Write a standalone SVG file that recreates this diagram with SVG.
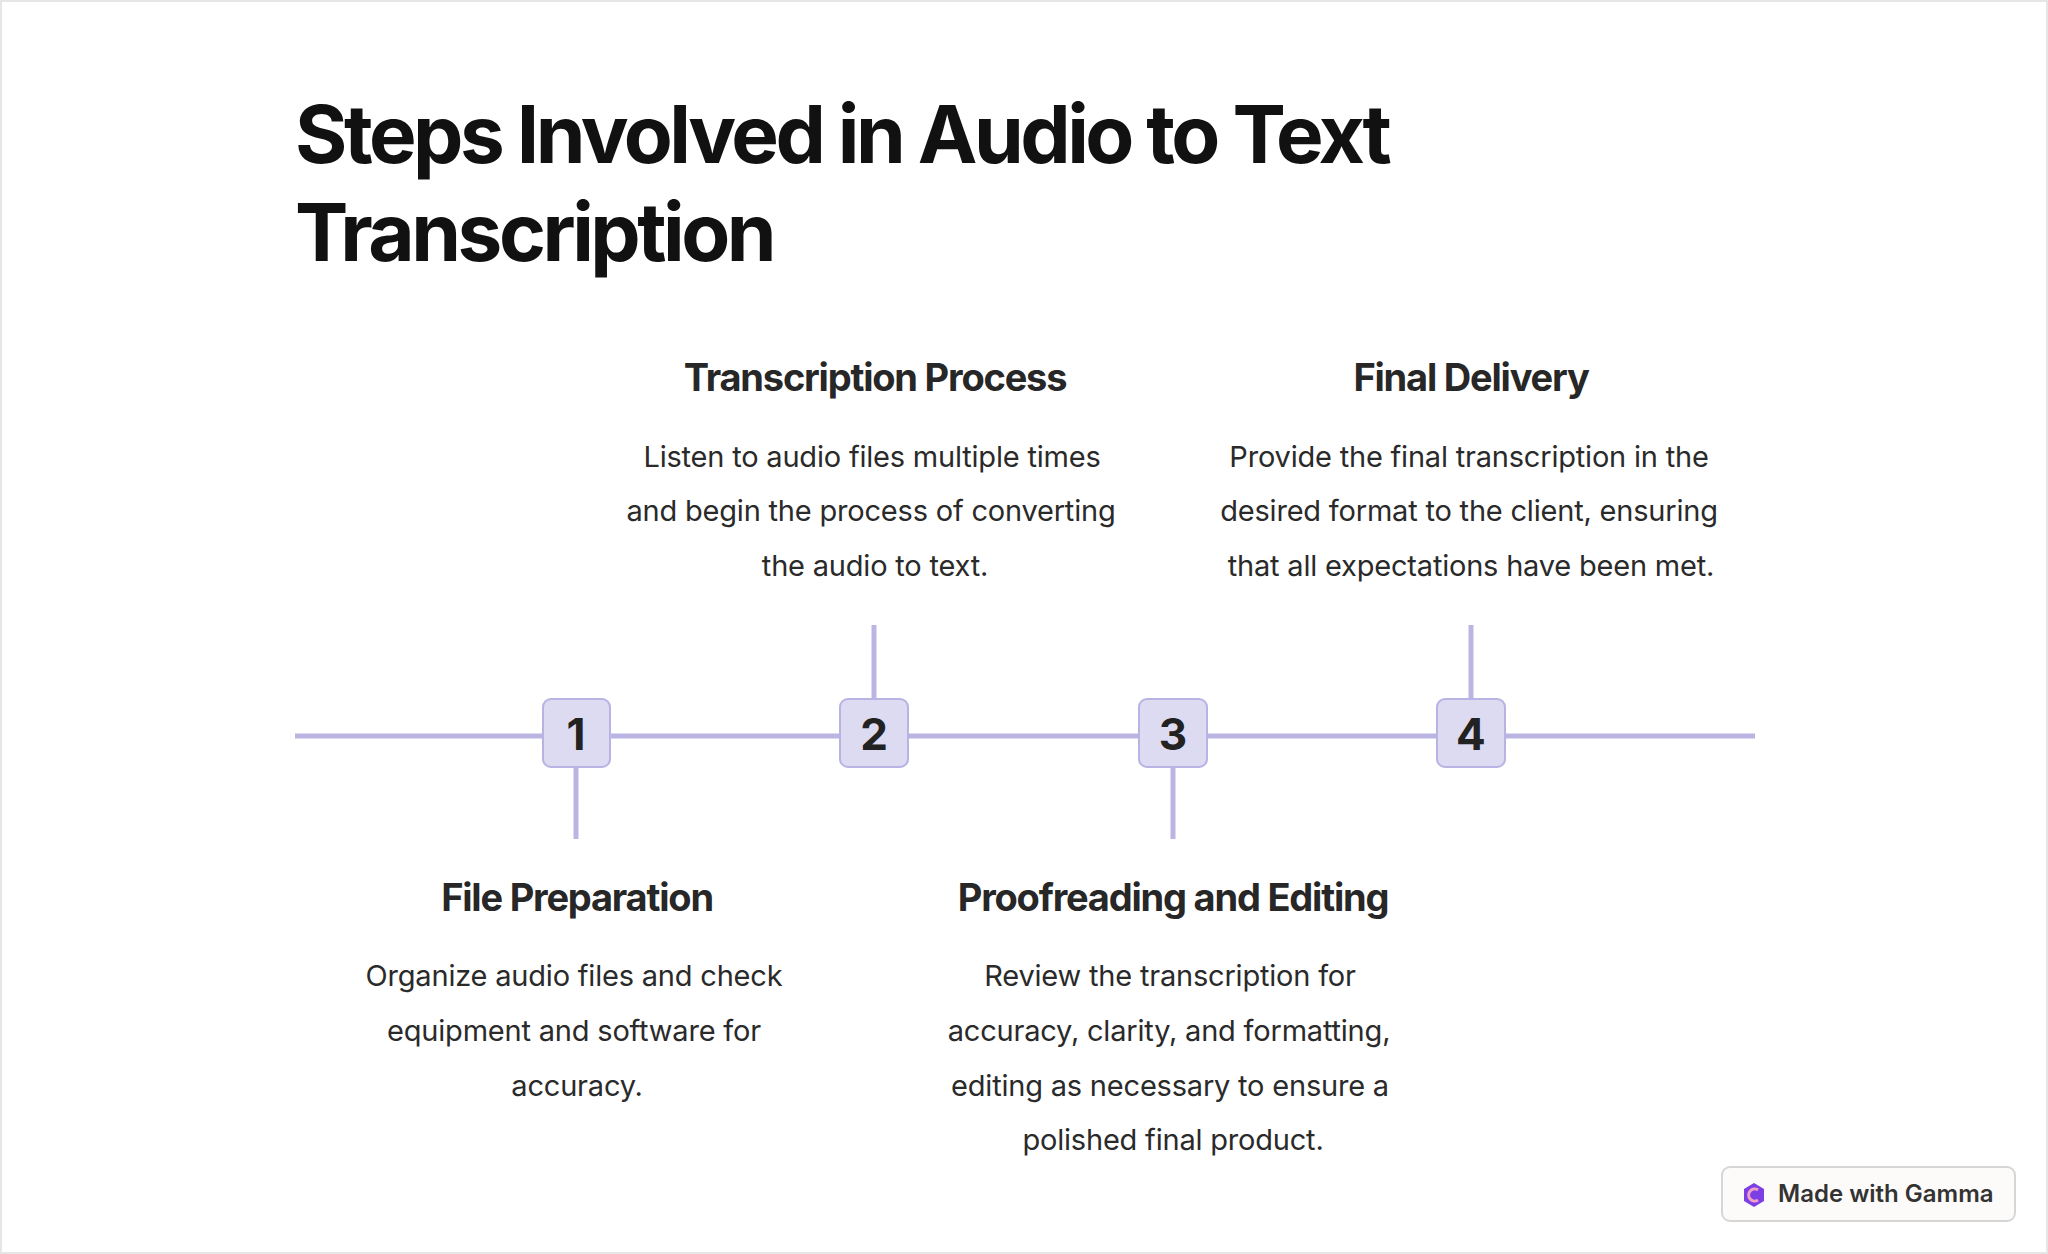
<svg xmlns="http://www.w3.org/2000/svg" width="2048" height="1254" viewBox="0 0 2048 1254">
<style>
.h{font-family:Inter,"Liberation Sans",sans-serif;font-weight:700;fill:#111}
.t{font-family:Inter,"Liberation Sans",sans-serif;font-weight:700;font-size:38px;fill:#272727;text-anchor:middle;letter-spacing:-1.2px}
.b{font-family:Inter,"Liberation Sans",sans-serif;font-size:29px;fill:#2a2a2a;text-anchor:middle;letter-spacing:-0.2px}
.n{font-family:Inter,"Liberation Sans",sans-serif;font-weight:700;font-size:44px;fill:#222;text-anchor:middle}
.bx{fill:#dcdbf2;stroke:#b8b3e3;stroke-width:2}
.ln{stroke:#bab5e3;stroke-width:5;fill:none}
</style>
<rect x="0" y="0" width="2048" height="1254" fill="#fff"/>
<rect x="1" y="1" width="2046" height="1252" fill="none" stroke="#e6e6e6" stroke-width="2"/>
<text class="h" font-size="80" letter-spacing="-3.5" x="295" y="163">Steps Involved in Audio to Text</text>
<text class="h" font-size="80" letter-spacing="-3.5" x="295" y="261">Transcription</text>
<g id="connectors">
<line class="ln" x1="295" y1="736" x2="1755" y2="736"/>
<line class="ln" x1="576" y1="767" x2="576" y2="839"/>
<line class="ln" x1="874" y1="625" x2="874" y2="700"/>
<line class="ln" x1="1173" y1="767" x2="1173" y2="839"/>
<line class="ln" x1="1471" y1="625" x2="1471" y2="700"/>
</g>
<g id="step1">
<rect class="bx" x="543" y="699" width="67" height="68" rx="8"/>
<text class="n" x="576" y="750">1</text>
<text class="t" x="577" y="911">File Preparation</text>
<text class="b" x="574" y="986">Organize audio files and check</text>
<text class="b" x="574" y="1041">equipment and software for</text>
<text class="b" x="577" y="1096">accuracy.</text>
</g>
<g id="step2">
<rect class="bx" x="840" y="699" width="68" height="68" rx="8"/>
<text class="n" x="874" y="750">2</text>
<text class="t" x="875" y="391">Transcription Process</text>
<text class="b" x="872" y="467">Listen to audio files multiple times</text>
<text class="b" x="871" y="521">and begin the process of converting</text>
<text class="b" x="875" y="576">the audio to text.</text>
</g>
<g id="step3">
<rect class="bx" x="1139" y="699" width="68" height="68" rx="8"/>
<text class="n" x="1173" y="750">3</text>
<text class="t" x="1173" y="911">Proofreading and Editing</text>
<text class="b" x="1170" y="986">Review the transcription for</text>
<text class="b" x="1169" y="1041">accuracy, clarity, and formatting,</text>
<text class="b" x="1170" y="1096">editing as necessary to ensure a</text>
<text class="b" x="1173" y="1150">polished final product.</text>
</g>
<g id="step4">
<rect class="bx" x="1437" y="699" width="68" height="68" rx="8"/>
<text class="n" x="1471" y="750">4</text>
<text class="t" x="1471" y="391">Final Delivery</text>
<text class="b" x="1469" y="467">Provide the final transcription in the</text>
<text class="b" x="1469" y="521">desired format to the client, ensuring</text>
<text class="b" x="1471" y="576">that all expectations have been met.</text>
</g>
<g id="badge">
<rect x="1722" y="1167" width="293" height="54" rx="8" fill="#fdfbfa" stroke="#d6d6d6" stroke-width="2"/>
<path d="M1754 1183 l10 6 v12 l-10 6 l-10 -6 v-12 z" fill="#7b3fe4"/>
<path d="M1758 1190 a6 6 0 1 0 0 10" fill="none" stroke="#f2a0c8" stroke-width="3"/>
<text x="1778" y="1202" font-family="Inter,'Liberation Sans',sans-serif" font-size="24" font-weight="600" fill="#333">Made with Gamma</text>
</g>
</svg>
